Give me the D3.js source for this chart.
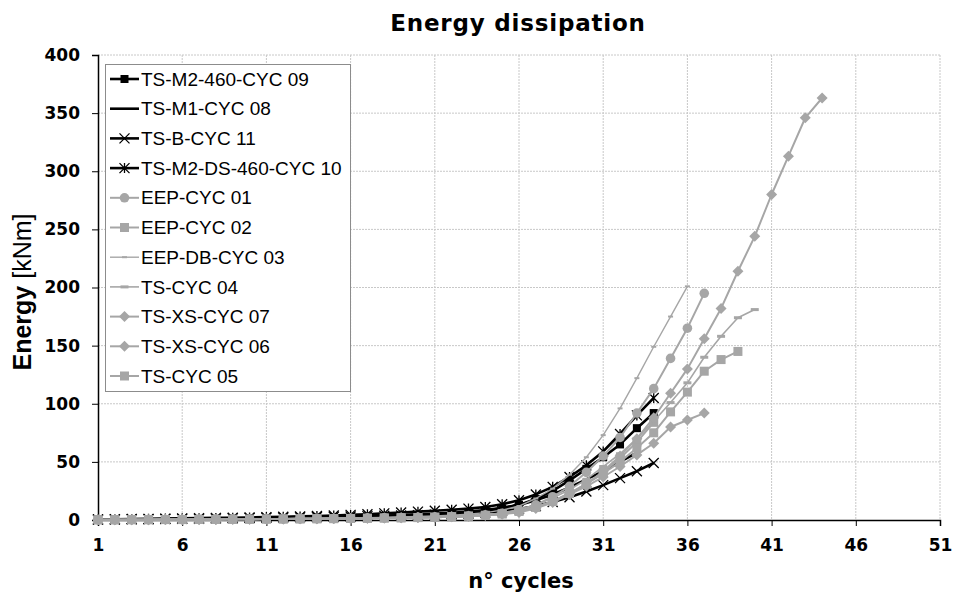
<!DOCTYPE html>
<html><head><meta charset="utf-8">
<script src="https://cdn.jsdelivr.net/npm/d3@7"></script>
<style>body{margin:0;background:#fff}svg{display:block}</style>
</head><body>
<svg id="c" width="954" height="594"></svg>
<script>
const xTicks = [1,6,11,16,21,26,31,36,41,46,51];
const yTicks = [0,50,100,150,200,250,300,350,400];

const seriesNames = ["TS-M2-460-CYC 09","TS-M1-CYC 08","TS-B-CYC 11","TS-M2-DS-460-CYC 10","EEP-CYC 01","EEP-CYC 02","EEP-DB-CYC 03","TS-CYC 04","TS-XS-CYC 07","TS-XS-CYC 06","TS-CYC 05"];

const cyc09 = [0.3,0.4,0.5,0.6,0.7,0.8,0.9,1.0,1.1,1.3, 1.5,1.7,1.9,2.1,2.4,2.7,3.0,3.3,3.7,4.2, 4.8,5.5,6.5,8.0,10,13,18,25,34,44, 54,65,79,92];
const cyc08 = [0.3,0.4,0.5,0.6,0.7,0.8,0.9,1.0,1.2,1.4, 1.6,1.8,2.0,2.3,2.6,2.9,3.3,3.7,4.2,4.8, 5.5,6.3,7.3,8.6,10.5,13,17,22,28,35, 42,50,58];
const cyc11 = [0.4,0.5,0.6,0.7,0.8,1.0,1.1,1.3,1.5,1.7, 1.9,2.1,2.3,2.5,2.7,3.0,3.3,3.6,3.9,4.2, 4.6,5.0,5.6,6.4,7.6,9.5,12,15.5,19.5,24.5, 30,36,42,49];
const cyc10 = [0.5,0.6,0.8,1.0,1.2,1.4,1.6,1.8,2.0,2.2, 2.5,2.8,3.1,3.5,3.9,4.4,5.0,5.7,6.4,7.2, 8.0,8.8,9.8,11.2,13.5,17,22,28.5,37,47, 59,74,90,105];
const eep01 = [0.2,0.2,0.3,0.3,0.4,0.4,0.5,0.5,0.6,0.7, 0.8,0.9,1.0,1.1,1.2,1.4,1.6,1.8,2.0,2.3, 2.6,3.0,3.5,4.3,5.8,8.5,13,20,29,41, 55,71,92,113,139,165,195];
const eep02 = [0.2,0.2,0.3,0.3,0.4,0.4,0.5,0.5,0.6,0.7, 0.8,0.9,1.0,1.1,1.2,1.3,1.5,1.7,1.9,2.1, 2.4,2.8,3.3,4.0,5.3,7.5,11,16,23,31, 41,53,67,84];
const eepdb03 = [0.2,0.3,0.3,0.4,0.4,0.5,0.6,0.7,0.8,0.9, 1.0,1.1,1.2,1.4,1.6,1.8,2.0,2.3,2.6,3.0, 3.5,4.1,5.0,6.3,8.5,12,18.5,27,39,54, 73,96,122,149,175,201];
const ts04 = [0.2,0.2,0.3,0.3,0.4,0.4,0.5,0.5,0.6,0.7, 0.8,0.9,1.0,1.1,1.2,1.3,1.5,1.7,1.9,2.1, 2.4,2.8,3.4,4.3,6,9,13,19,26,35, 46,57,70,85,101,118,140,158,174,181];
const ts07 = [0.2,0.2,0.3,0.3,0.4,0.4,0.5,0.5,0.6,0.7, 0.8,0.9,1.0,1.1,1.2,1.3,1.5,1.7,1.9,2.1, 2.4,2.8,3.3,4.0,5.0,6.5,10,15,22,31, 42,55,70,88,109,130,156,182,214,244, 280,313,346,363];
const ts06 = [0.2,0.2,0.3,0.3,0.4,0.4,0.5,0.5,0.6,0.7, 0.8,0.9,1.0,1.1,1.2,1.3,1.5,1.7,1.9,2.1, 2.4,2.8,3.3,4.0,5.2,7.5,11,16,22,29, 37,46,56,66,80,86,92];
const ts05 = [0.2,0.2,0.3,0.3,0.4,0.4,0.5,0.5,0.6,0.7, 0.8,0.9,1.0,1.1,1.2,1.3,1.5,1.7,1.9,2.1, 2.4,2.8,3.3,4.0,5.3,7.5,11,16,23,31, 40,50,62,75,93,110,128,138,145];

const seriesValues = [cyc09,cyc08,cyc11,cyc10,eep01,eep02,eepdb03,ts04,ts07,ts06,ts05];
const seriesColor = ["#000","#000","#000","#000","#a6a6a6","#a6a6a6","#a6a6a6","#a6a6a6","#a6a6a6","#a6a6a6","#a6a6a6"];
const seriesWidth = [2.6,2.6,2.6,2.6,2,2,1.4,1.6,2,2,2];
const seriesMarker = ["square","none","cross","star","circle","square","dashS","dash","diamond","diamond","square"];

const svg = d3.select("#c");
const x = d3.scaleLinear().domain([1,51]).range([98,940]);
const y = d3.scaleLinear().domain([0,400]).range([520,55]);

const tickFont = "'DejaVu Sans', Verdana, sans-serif";

// gridlines
const grid = svg.append("g");
grid.selectAll(".vg").data(xTicks.slice(1)).join("line")
  .attr("x1",d=>x(d)).attr("x2",d=>x(d)).attr("y1",y(400)).attr("y2",y(0))
  .attr("stroke","#c8c8c8").attr("stroke-width",1).attr("stroke-dasharray","2,1");
grid.selectAll(".hg").data(yTicks.slice(1)).join("line")
  .attr("x1",x(1)).attr("x2",x(51)).attr("y1",d=>y(d)).attr("y2",d=>y(d))
  .attr("stroke","#c8c8c8").attr("stroke-width",1).attr("stroke-dasharray","2,1");

// axes
const xAxis = d3.axisBottom(x).tickValues(xTicks).tickSize(6).tickPadding(13).tickFormat(d3.format("d"));
const yAxis = d3.axisLeft(y).tickValues(yTicks).tickSize(6).tickPadding(12).tickFormat(d3.format("d"));
const gx = svg.append("g").attr("transform",`translate(0,${y(0)})`).call(xAxis);
const gy = svg.append("g").attr("transform",`translate(${x(1)},0)`).call(yAxis);
[gx,gy].forEach(g=>{
  g.select(".domain").attr("stroke","#000").attr("stroke-width",1.5);
  g.selectAll(".tick line").attr("stroke","#000").attr("stroke-width",1);
  g.selectAll("text").attr("font-family",tickFont).attr("font-weight","bold").attr("font-size",17).attr("fill","#000");
});

// markers
function drawMarker(g, type, cx, cy, color){
  if(type==="square"){
    const s = color==="#000"?8:9;
    g.append("rect").attr("x",cx-s/2).attr("y",cy-s/2).attr("width",s).attr("height",s).attr("fill",color);
  } else if(type==="circle"){
    g.append("circle").attr("cx",cx).attr("cy",cy).attr("r",4.8).attr("fill",color);
  } else if(type==="diamond"){
    const r=5.5;
    g.append("path").attr("d",`M${cx},${cy-r}L${cx+r},${cy}L${cx},${cy+r}L${cx-r},${cy}Z`).attr("fill",color);
  } else if(type==="dash"){
    g.append("rect").attr("x",cx-4).attr("y",cy-1.5).attr("width",8).attr("height",3).attr("fill",color);
  } else if(type==="dashS"){
    g.append("rect").attr("x",cx-2.5).attr("y",cy-1).attr("width",5).attr("height",2).attr("fill",color);
  } else if(type==="cross"){
    const r=5;
    g.append("path").attr("d",`M${cx-r},${cy-r}L${cx+r},${cy+r}M${cx-r},${cy+r}L${cx+r},${cy-r}`).attr("stroke",color).attr("stroke-width",1.3).attr("fill","none");
  } else if(type==="star"){
    const r=5;
    g.append("path").attr("d",`M${cx-r},${cy-r}L${cx+r},${cy+r}M${cx-r},${cy+r}L${cx+r},${cy-r}M${cx},${cy-r}L${cx},${cy+r}`).attr("stroke",color).attr("stroke-width",1.3).attr("fill","none");
  }
}

const line = d3.line().x((d,i)=>x(i+1)).y(d=>y(d));
const plot = svg.append("g");
seriesValues.forEach((vals,si)=>{
  const g = plot.append("g");
  g.append("path").datum(vals).attr("d",line).attr("fill","none")
    .attr("stroke",seriesColor[si]).attr("stroke-width",seriesWidth[si]).attr("stroke-linejoin","round");
  if(seriesMarker[si]!=="none"){
    vals.forEach((v,i)=>drawMarker(g, seriesMarker[si], x(i+1), y(v), seriesColor[si]));
  }
});

// legend
const lg = svg.append("g");
lg.append("rect").attr("x",105.5).attr("y",64.5).attr("width",245).attr("height",327)
  .attr("fill","#fff").attr("stroke","#8c8c8c").attr("stroke-width",1);
seriesNames.forEach((n,i)=>{
  const cy = 79 + i*29.7;
  lg.append("line").attr("x1",110).attr("x2",139).attr("y1",cy).attr("y2",cy)
    .attr("stroke",seriesColor[i]).attr("stroke-width",seriesWidth[i]);
  if(seriesMarker[i]!=="none") drawMarker(lg, seriesMarker[i], 124.5, cy, seriesColor[i]);
  lg.append("text").attr("x",141).attr("y",cy).attr("dy","0.35em")
    .attr("font-family","'Liberation Sans', Arial, sans-serif").attr("font-size",19).attr("fill","#000").text(n);
});

// titles
svg.append("text").attr("x",518).attr("y",31).attr("text-anchor","middle")
  .attr("font-family",tickFont).attr("font-weight","bold").attr("font-size",23).attr("letter-spacing",0.8).text("Energy dissipation");
svg.append("text").attr("x",521).attr("y",588).attr("text-anchor","middle")
  .attr("font-family",tickFont).attr("font-weight","bold").attr("font-size",21).text("n° cycles");
const yt = svg.append("text").attr("transform","translate(31,292) rotate(-90)").attr("text-anchor","middle")
  .attr("font-family","'Liberation Sans', Arial, sans-serif").attr("font-size",25);
yt.append("tspan").attr("font-weight","bold").text("Energy ");
yt.append("tspan").text("[kNm]");
</script>
</body></html>
